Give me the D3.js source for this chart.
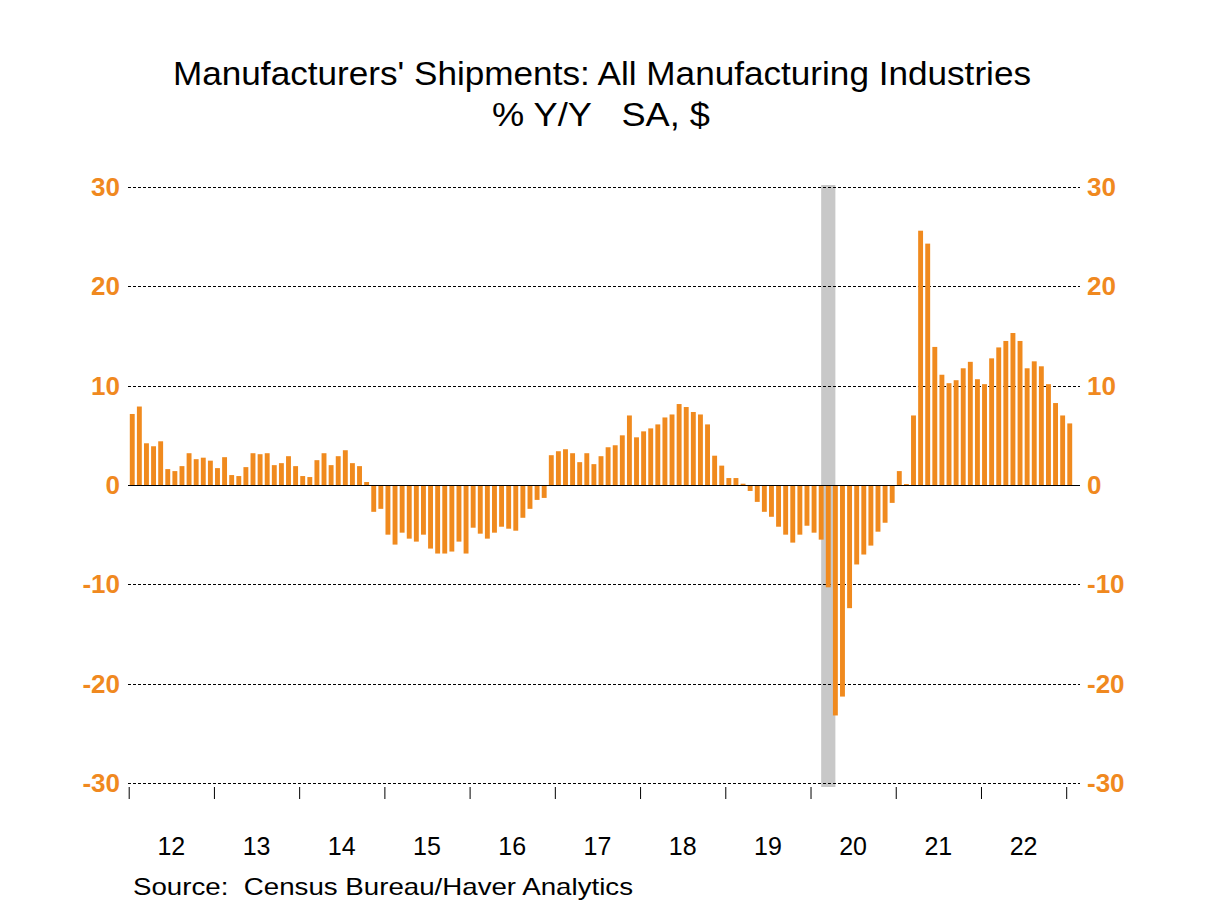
<!DOCTYPE html>
<html>
<head>
<meta charset="utf-8">
<script src="https://cdn.jsdelivr.net/npm/d3@7"></script>
<style>
  html, body { margin: 0; padding: 0; background: #fff; }
  svg { display: block; font-family: "Liberation Sans", Arial, sans-serif; }
</style>
</head>
<body>
<svg id="chart" width="1208" height="906"></svg>
<script>
// Monthly % Y/Y, Jan 2012 .. Jan 2023
const startYear = 2012;
const values2012 = [7.15, 7.9, 4.2, 3.9, 4.4, 1.6, 1.4, 1.9, 3.2, 2.6, 2.75, 2.45];
const values2013 = [1.7, 2.8, 1.0, 0.9, 1.8, 3.2, 3.1, 3.2, 2.0, 2.2, 2.9, 1.9];
const values2014 = [0.9, 0.8, 2.5, 3.2, 2.0, 2.9, 3.5, 2.2, 1.9, 0.3, -2.7, -2.4];
const values2015 = [-5.0, -6.0, -4.8, -5.4, -5.7, -5.0, -6.4, -6.9, -6.9, -6.7, -5.7, -6.9];
const values2016 = [-4.3, -4.9, -5.4, -4.8, -4.2, -4.4, -4.6, -3.3, -2.4, -1.5, -1.3, 3.0];
const values2017 = [3.4, 3.6, 3.2, 2.3, 3.2, 2.1, 2.9, 3.8, 4.0, 5.0, 7.0, 4.8];
const values2018 = [5.4, 5.7, 6.1, 6.8, 7.1, 8.15, 7.85, 7.35, 7.1, 6.1, 2.95, 1.95];
const values2019 = [0.7, 0.7, 0.13, -0.6, -1.7, -2.7, -3.2, -4.2, -5.0, -5.8, -5.0, -4.1];
const values2020 = [-4.8, -5.5, -10.3, -23.2, -21.3, -12.4, -8.0, -7.0, -6.1, -4.7, -3.8, -1.8];
const values2021 = [1.4, 0.1, 7.0, 25.6, 24.3, 13.9, 11.1, 10.25, 10.55, 11.75, 12.4, 10.65];
const values2022 = [10.15, 12.75, 13.85, 14.5, 15.3, 14.5, 11.75, 12.45, 11.95, 10.15, 8.25, 7.0];
const values2023 = [6.2];
const values = [].concat(values2012, values2013, values2014, values2015, values2016,
  values2017, values2018, values2019, values2020, values2021, values2022, values2023);

const yearLabels = ["12", "13", "14", "15", "16", "17", "18", "19", "20", "21", "22"];
const yTicks = [-30, -20, -10, 0, 10, 20, 30];
// Recession: Feb 2020 .. Apr 2020 (month index)
const recessionStart = 97, recessionEnd = 99;

const titleText = "Manufacturers' Shipments: All Manufacturing Industries";
const subtitleText = "% Y/Y   SA, $";
const sourceText = "Source:  Census Bureau/Haver Analytics";

const svg = d3.select("#chart");
const orange = "#F08A1E";
const labelOrange = "#F0891F";

const x = d3.scaleLinear().domain([0, 132]).range([128.7, 1066.2]);
const y = d3.scaleLinear().domain([-30, 30]).range([783, 187]);
const plotLeft = 128, plotRight = 1080;

// Recession band
svg.append("rect")
  .attr("x", x(recessionStart + 0.5))
  .attr("width", x(recessionEnd + 0.5) - x(recessionStart + 0.5))
  .attr("y", 185)
  .attr("height", 602)
  .attr("fill", "#C8C8C8");

// Grid lines
svg.append("g").selectAll("line")
  .data(yTicks.filter(d => d !== 0))
  .join("line")
  .attr("x1", plotLeft).attr("x2", plotRight)
  .attr("y1", d => Math.round(y(d)) + 0.5).attr("y2", d => Math.round(y(d)) + 0.5)
  .attr("stroke", "#000").attr("stroke-width", 1)
  .attr("stroke-dasharray", "3,2");

// Bars
const barW = 4.9;
svg.append("g").selectAll("rect")
  .data(values)
  .join("rect")
  .attr("x", (d, i) => x(i) + 1.1)
  .attr("width", barW)
  .attr("y", d => y(Math.max(0, d)))
  .attr("height", d => Math.abs(y(d) - y(0)))
  .attr("fill", orange);

// Zero line
svg.append("line")
  .attr("x1", plotLeft).attr("x2", plotRight)
  .attr("y1", Math.round(y(0)) + 0.5).attr("y2", Math.round(y(0)) + 0.5)
  .attr("stroke", "#000").attr("stroke-width", 1.2);

// Y labels left and right
const fmt = d => String(d);
svg.append("g").selectAll("text")
  .data(yTicks).join("text")
  .attr("x", 120).attr("y", d => y(d) + 9)
  .attr("text-anchor", "end")
  .attr("font-size", 26).attr("font-weight", "bold")
  .attr("fill", labelOrange)
  .text(fmt);
svg.append("g").selectAll("text")
  .data(yTicks).join("text")
  .attr("x", 1087).attr("y", d => y(d) + 9)
  .attr("text-anchor", "start")
  .attr("font-size", 26).attr("font-weight", "bold")
  .attr("fill", labelOrange)
  .text(fmt);

// X axis ticks (year boundaries)
const xAxis = d3.axisBottom(x)
  .tickValues(d3.range(0, 133, 12))
  .tickSize(12)
  .tickFormat("");
const gx = svg.append("g").attr("transform", "translate(0,787)").call(xAxis);
gx.select(".domain").remove();
gx.selectAll(".tick line").attr("stroke", "#000").attr("stroke-width", 1);

// Year labels
svg.append("g").selectAll("text")
  .data(yearLabels).join("text")
  .attr("x", (d, i) => x(i * 12 + 6))
  .attr("y", 855)
  .attr("text-anchor", "middle")
  .attr("font-size", 25)
  .attr("fill", "#000")
  .text(d => d);

// Titles
svg.append("text").attr("x", 602).attr("y", 85)
  .attr("text-anchor", "middle").attr("font-size", 33).attr("fill", "#000")
  .attr("textLength", 858).attr("lengthAdjust", "spacingAndGlyphs")
  .text(titleText);
svg.append("text").attr("x", 601).attr("y", 126)
  .attr("text-anchor", "middle").attr("font-size", 33).attr("fill", "#000")
  .attr("xml:space", "preserve")
  .style("white-space", "pre")
  .attr("textLength", 218).attr("lengthAdjust", "spacingAndGlyphs")
  .text(subtitleText);

// Source
svg.append("text").attr("x", 133).attr("y", 895)
  .attr("font-size", 24).attr("fill", "#000")
  .attr("xml:space", "preserve")
  .style("white-space", "pre")
  .attr("textLength", 500).attr("lengthAdjust", "spacingAndGlyphs")
  .text(sourceText);
</script>
</body>
</html>
